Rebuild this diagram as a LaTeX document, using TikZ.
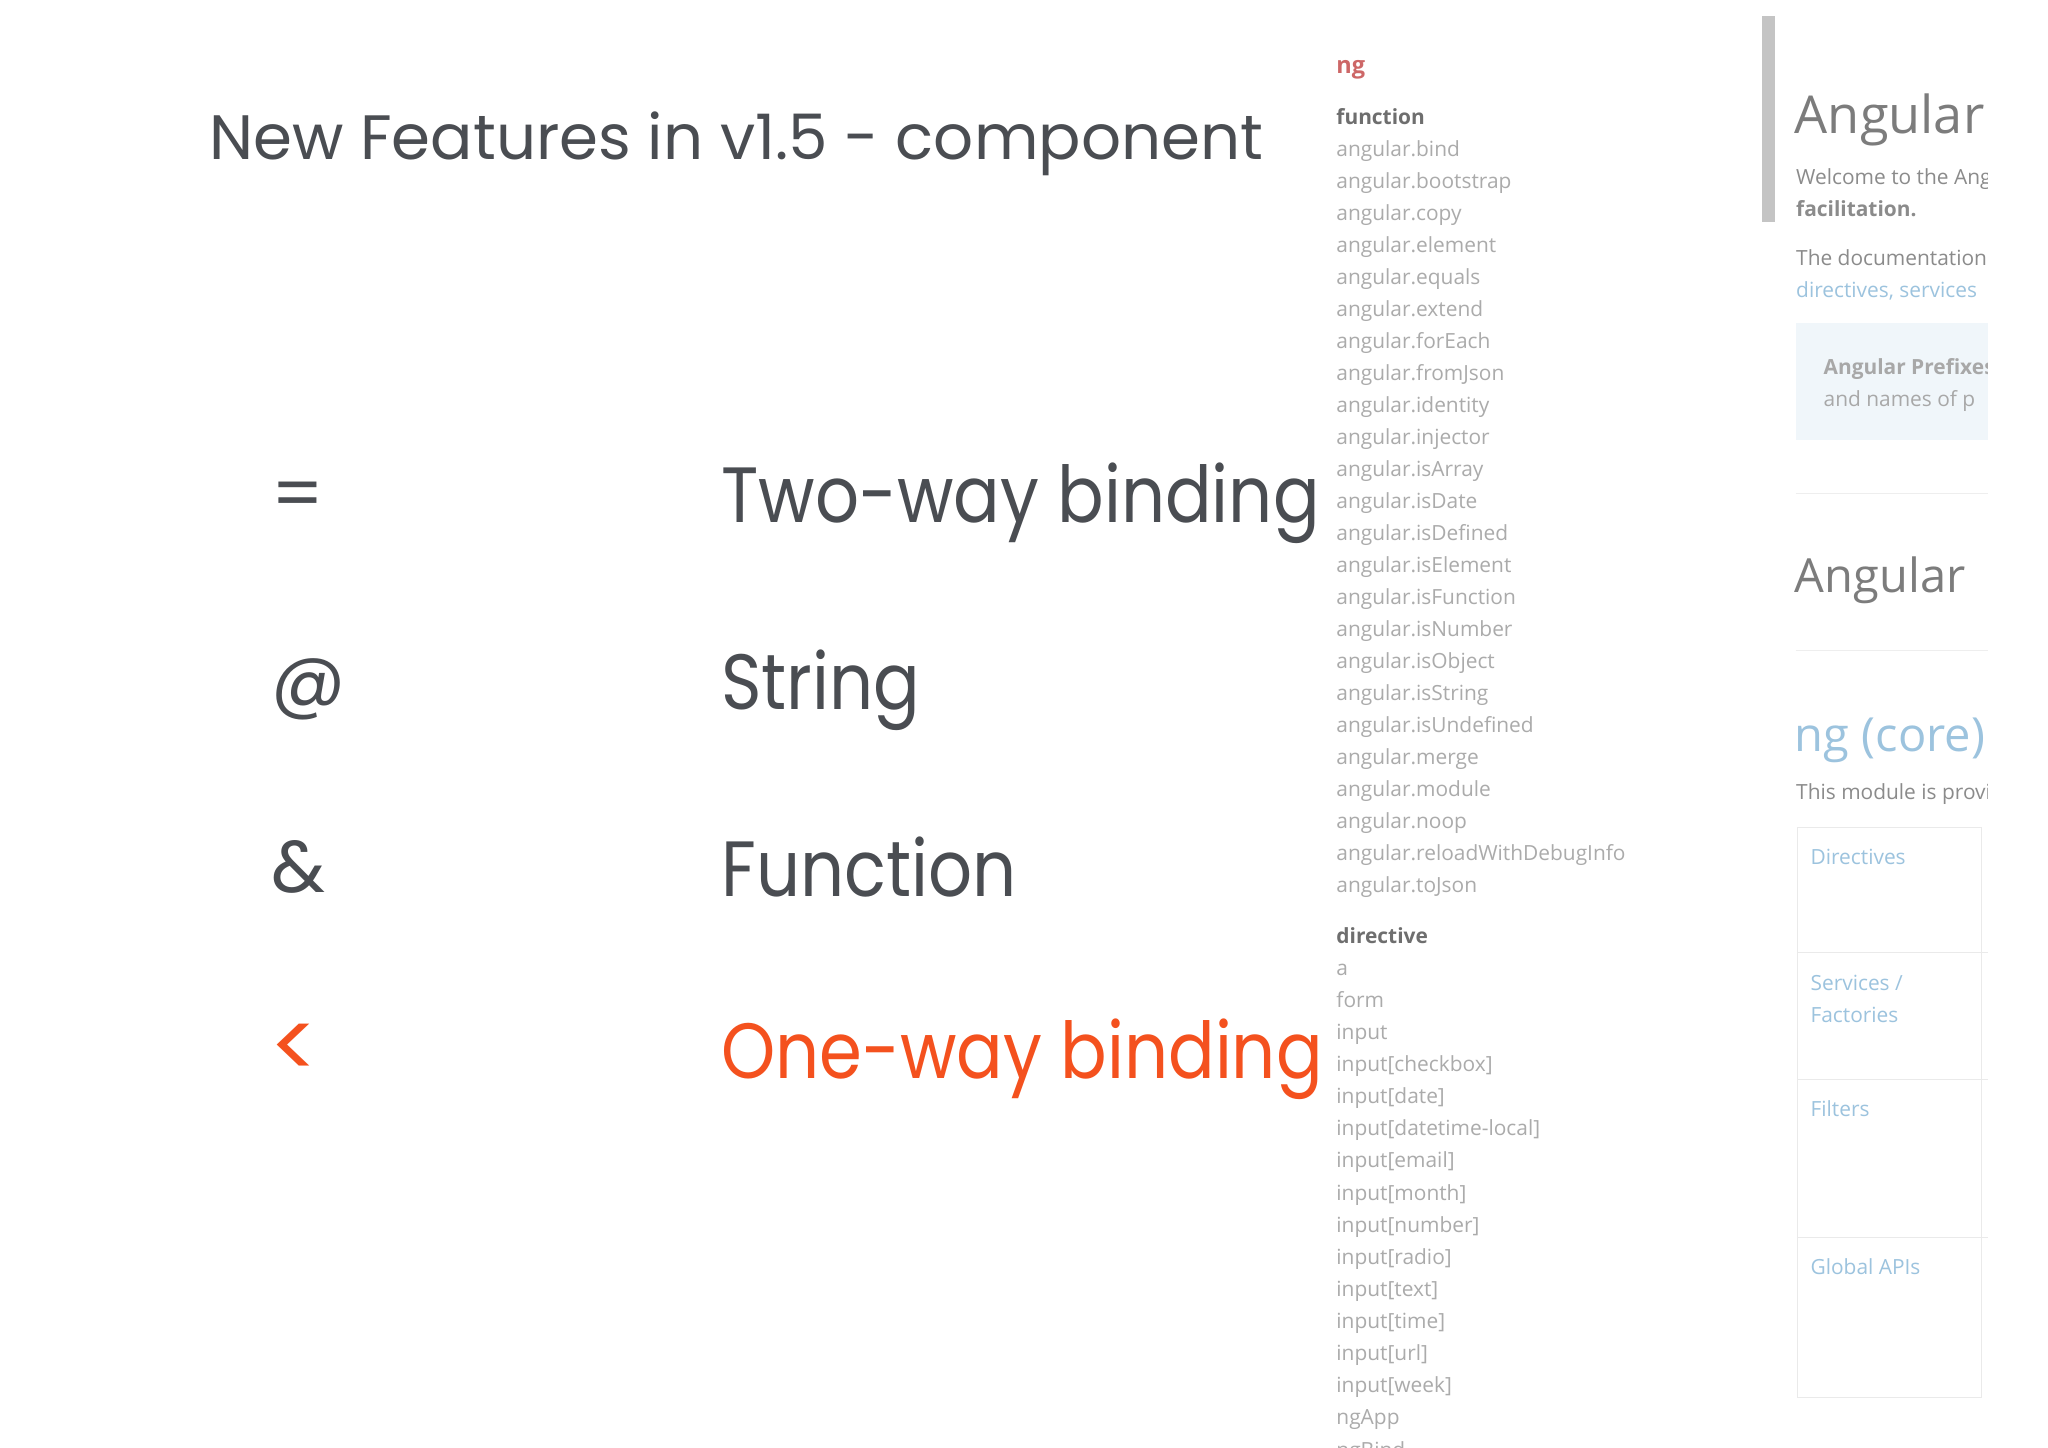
\documentclass[tikz,border=0pt]{standalone}
\usepackage{fontspec}
\setmainfont{Poppins}
\newfontfamily\narrow[FakeStretch=0.88]{Poppins}
\newfontfamily\side{Open Sans}
\definecolor{dk}{HTML}{4A4D52}
\definecolor{og}{HTML}{F4511E}
\definecolor{lg}{HTML}{ABABAB}
\definecolor{hd}{HTML}{6E6E6E}
\definecolor{lb}{HTML}{9CC3DE}
\begin{document}
\begin{tikzpicture}[x=1pt,y=-1pt,
  big/.style={anchor=base west,font=\narrow\fontsize{60}{66}\selectfont,text=dk,inner sep=0},
  sym/.style={anchor=base west,font=\fontsize{56}{60}\selectfont,text=dk,inner sep=0},
  it/.style={anchor=base west,font=\side\fontsize{16}{18}\selectfont,text=lg,inner sep=0},
  hdr/.style={anchor=base west,font=\side\bfseries\fontsize{16}{18}\selectfont,text=hd,inner sep=0},
  rp/.style={anchor=base west,font=\side\fontsize{16}{18}\selectfont,text=hd!80,inner sep=0}]
\useasboundingbox[fill=white] (0,0) rectangle (1568,1108);
\node[anchor=base west,inner sep=0,font=\fontsize{48}{52}\selectfont,text=dk] (title) at (160,122) {New Features in v1.5 - component};
\node[sym] (s1) at (208,398) {=};
\node[sym] (s2) at (208,540) {@};
\node[sym] (s3) at (208,683) {\&};
\node[sym,font=\fontsize{70}{72}\selectfont,text=og] (s4) at (206,826) {<};
\node[big] (t1) at (552,400) {Two-way binding};
\node[big] (t2) at (552,543) {String};
\node[big] (t3) at (552,686) {Function};
\node[big,text=og] (t4) at (552,826) {One-way binding};
% sidebar
\node[anchor=base west,inner sep=0,font=\side\bfseries\fontsize{18}{20}\selectfont,text=red!40!lg] (ng) at (1023,56) {ng};
\node[hdr] (h1) at (1023,95) {function};
\foreach \t [count=\i] in {angular.bind,angular.bootstrap,angular.copy,angular.element,angular.equals,angular.extend,angular.forEach,angular.fromJson,angular.identity,angular.injector,angular.isArray,angular.isDate,angular.isDefined,angular.isElement,angular.isFunction,angular.isNumber,angular.isObject,angular.isString,angular.isUndefined,angular.merge,angular.module,angular.noop,angular.reloadWithDebugInfo,angular.toJson}
  \node[it] (f\i) at (1023,{95+24.5*\i}) {\t};
\node[hdr] (h2) at (1023,722) {directive};
\foreach \t [count=\i] in {a,form,input,{input[checkbox]},{input[date]},{input[datetime-local]},{input[email]},{input[month]},{input[number]},{input[radio]},{input[text]},{input[time]},{input[url]},{input[week]},ngApp,ngBind}
  \node[it] (d\i) at (1023,{722+24.6*\i}) {\t};
% right panel
\fill[lg!70] (1349,12) rectangle (1359,170);
\begin{scope}
\clip (1360,0) rectangle (1522,1108);
\node[anchor=base west,inner sep=0,font=\side\fontsize{40}{44}\selectfont,text=hd!90] (r1) at (1374,102) {Angular};
\node[rp] (r2) at (1375,141) {Welcome to the Angular};
\node[rp,font=\side\bfseries\fontsize{16}{18}\selectfont] (r3) at (1375,166) {facilitation.};
\node[rp] (r4) at (1375,203) {The documentation};
\node[rp,text=lb] (r5) at (1375,228) {directives, services};
\fill[lb!15] (1375,247) rectangle (1530,337);
\node[rp,font=\side\bfseries\fontsize{16}{18}\selectfont,text=hd!60] (r6) at (1396,287) {Angular Prefixes};
\node[rp,text=hd!60] (r7) at (1396,311) {and names of p};
\draw[lg!20] (1375,378) -- (1530,378);
\node[anchor=base west,inner sep=0,font=\side\fontsize{36}{40}\selectfont,text=hd!90] (r8) at (1374,454) {Angular};
\draw[lg!20] (1375,498) -- (1530,498);
\node[anchor=base west,inner sep=0,font=\side\fontsize{36}{40}\selectfont,text=lb] (r9) at (1374,575) {ng (core)};
\node[rp] (r10) at (1375,612) {This module is provided};
\draw[lg!25] (1376,633) rectangle (1517,1070);
\foreach \y in {729,826,947} \draw[lg!25] (1376,\y) -- (1522,\y);
\node[rp,text=lb] (r11) at (1386,662) {Directives};
\node[rp,text=lb] (r12) at (1386,758) {Services /};
\node[rp,text=lb] (r13) at (1386,783) {Factories};
\node[rp,text=lb] (r14) at (1386,855) {Filters};
\node[rp,text=lb] (r15) at (1386,976) {Global APIs};
\end{scope}
\end{tikzpicture}
\end{document}
